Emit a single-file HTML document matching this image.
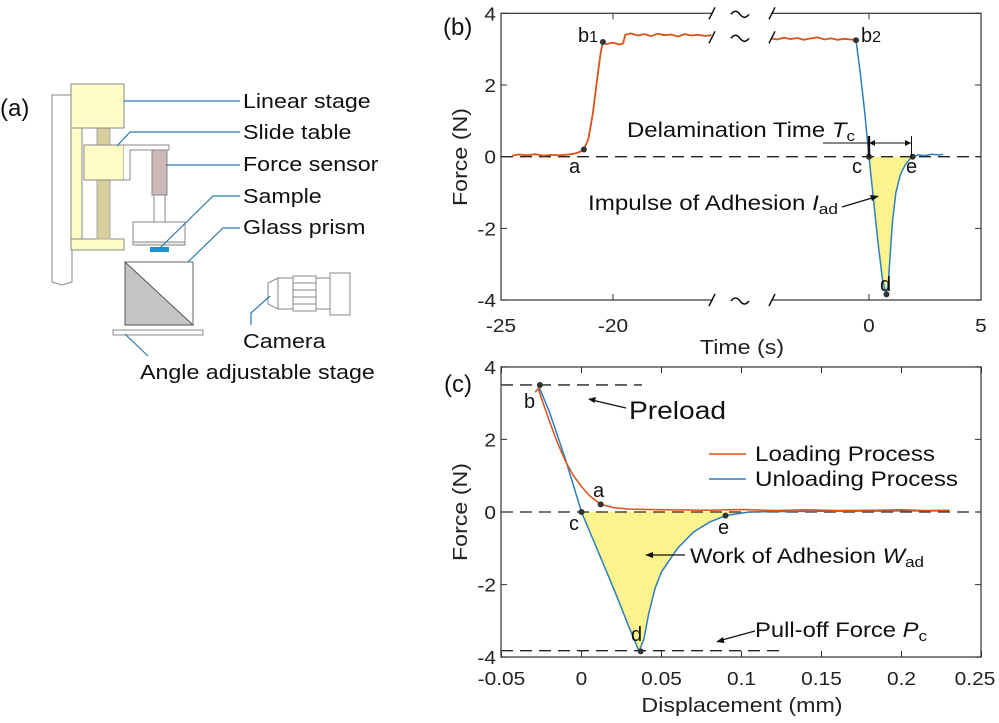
<!DOCTYPE html>
<html><head><meta charset="utf-8"><style>
html,body{margin:0;padding:0;background:#fff;}
svg{display:block;font-family:"Liberation Sans",Arial,sans-serif;}
</style></head><body>
<svg id="fig" width="999" height="723" viewBox="0 0 999 723" xmlns="http://www.w3.org/2000/svg">
<rect width="999" height="723" fill="#fff"/>
<g id="panelA" stroke="#888" stroke-width="1">
  <text x="0" y="116" font-size="24" fill="#111" stroke="none">(a)</text>
  <path d="M52,95 L72,95 L72,282 L62,285 L52,282 Z" fill="#fff"/>
  <rect x="71" y="128" width="11" height="122" fill="#fdfbc6"/>
  <rect x="71" y="239" width="53" height="11" fill="#fdfbc6"/>
  <rect x="97" y="128" width="13" height="111" fill="#d6cf9c" stroke="#aaa"/>
  <rect x="71" y="84" width="53" height="44" fill="#fdfbc6"/>
  <rect x="84" y="145" width="40" height="35" fill="#fdfbc6"/>
  <path d="M124,145 L169,145 L169,150 L130,150 L130,180 L124,180" fill="#fff"/>
  <rect x="152" y="150" width="15" height="45" fill="#cdb8b8"/>
  <rect x="154" y="195" width="11" height="27" fill="#fff"/>
  <rect x="133" y="222" width="52" height="20" fill="#fff"/>
  <rect x="133" y="242" width="52" height="3" fill="#eee"/>
  <rect x="150" y="247" width="19" height="5" fill="#1e90d6" stroke="none"/>
  <rect x="125" y="262" width="68" height="63" fill="#fff" stroke="#666"/>
  <path d="M125,262 L193,325 L125,325 Z" fill="#c4c4c4" stroke="#555"/>
  <rect x="113" y="330" width="90" height="5" fill="#fff"/>
  <g fill="#fff">
    <path d="M268,283 L278,278 L278,309 L268,304 Z"/>
    <rect x="278" y="278" width="15" height="31"/>
    <rect x="293" y="276" width="23" height="35"/>
    <line x1="293" y1="283" x2="316" y2="283"/><line x1="293" y1="290" x2="316" y2="290"/><line x1="293" y1="297" x2="316" y2="297"/><line x1="293" y1="304" x2="316" y2="304"/>
    <rect x="316" y="278" width="14" height="31"/>
    <rect x="330" y="273" width="20" height="42"/>
  </g>
  <g stroke="#2a7ab0" stroke-width="1.2" fill="none">
    <path d="M124,101 L240,101"/>
    <path d="M117,146 L130,132 L240,132"/>
    <path d="M166,165 L240,165"/>
    <path d="M160,248 L213,196 L240,196"/>
    <path d="M188,262 L223,228 L240,228"/>
    <path d="M251,325 L251,313 L270,296"/>
    <path d="M125,334 L148,356"/>
  </g>
  <g font-size="20" fill="#111" stroke="none">
    <text class="st" x="243" y="108">Linear stage</text>
    <text class="st" x="243" y="139">Slide table</text>
    <text class="st" x="243" y="171">Force sensor</text>
    <text class="st" x="243" y="203">Sample</text>
    <text class="st" x="243" y="234">Glass prism</text>
    <text class="st" x="243" y="348">Camera</text>
    <text class="st" x="140" y="379">Angle adjustable stage</text>
  </g>
</g>
<g id="panelB"></g>
<g id="panelC"></g>
</svg>
<script>
// ---- Panel (b) data ----
const bLoadT = [-24.5,-24.2,-23.8,-23.5,-23.1,-22.8,-22.4,-22,-21.7,-21.5,-21.3,-21.1,-20.9,-20.7,-20.55,-20.45,-20.3,-20.0,-19.7,-19.55,-19.45,-19.2,-18.9,-18.6,-18.3,-18,-17.7,-17.4,-17.1,-16.8,-16.5,-16.2,-15.9,-15.6];
const bLoadF = [0.03,0.06,0.04,0.07,0.03,0.05,0.04,0.06,0.09,0.13,0.2,0.5,1.2,2.2,2.9,3.2,3.14,3.18,3.13,3.16,3.4,3.44,3.38,3.42,3.36,3.43,3.39,3.41,3.35,3.42,3.38,3.4,3.37,3.39];
const bHoldT = [-4.4,-4.1,-3.8,-3.5,-3.2,-2.9,-2.6,-2.3,-2.0,-1.7,-1.4,-1.1,-0.8,-0.58];
const bHoldF = [3.3,3.27,3.32,3.28,3.31,3.26,3.3,3.33,3.27,3.3,3.26,3.29,3.27,3.25];
const bUnloadT = [-0.58,-0.4,-0.2,0,0.2,0.4,0.6,0.72,0.78,0.86,0.95,1.05,1.2,1.4,1.6,1.8,1.95,2.2,2.5,2.8,3.1,3.3];
const bUnloadF = [3.25,2.4,1.3,0,-1.2,-2.4,-3.4,-3.75,-3.84,-3.5,-2.7,-1.8,-1.0,-0.5,-0.25,-0.08,0,0.05,0.03,0.07,0.05,0.06];
const bPointsT = [-21.3,-20.45,-0.58,0,0.78,1.95];
const bPointsF = [0.2,3.2,3.25,0,-3.84,0];
const bYTicks = [-4,-2,0,2,4];
const bXTicks = [-25,-20,0,5];
// ---- Panel (c) data ----
const cLoadD = [-0.029,-0.027,-0.024,-0.02,-0.015,-0.01,-0.005,0,0.005,0.012,0.02,0.03,0.05,0.08,0.1,0.12,0.14,0.16,0.18,0.2,0.215,0.23];
const cLoadF = [3.3,3.4,3.0,2.5,1.9,1.4,1.0,0.7,0.45,0.21,0.12,0.08,0.06,0.05,0.07,0.04,0.06,0.04,0.05,0.06,0.04,0.05];
const cUnloadD = [-0.027,-0.02,-0.01,0,0.01,0.02,0.03,0.036,0.039,0.042,0.046,0.05,0.06,0.07,0.08,0.09,0.1,0.105,0.12,0.15,0.2,0.23];
const cUnloadF = [3.5,2.75,1.45,0,-1.05,-2.1,-3.2,-3.84,-3.5,-2.8,-2.1,-1.65,-1.0,-0.55,-0.28,-0.1,-0.03,0,0.01,0.02,0.03,0.03];
const cPointsD = [-0.026,0.012,0,0.09,0.037];
const cPointsF = [3.5,0.21,0,-0.1,-3.84];
const cYTicks = [-4,-2,0,2,4];
const cXTicks = [-0.05,0,0.05,0.1,0.15,0.2,0.25];
const cXTickLabels = ['-0.05','0','0.05','0.1','0.15','0.2','0.25'];

const NS='http://www.w3.org/2000/svg';
function mk(parent,tag,attrs,text){const e=document.createElementNS(NS,tag);for(const k in attrs)e.setAttribute(k,attrs[k]);if(text!==undefined)e.textContent=text;parent.appendChild(e);return e;}
const ORANGE='#d95319', BLUE='#2b7fc0', AX='#333', FILL='#fbf38e';
const L=501,R=981;
const bTop=13.3,bBot=300;
function bx(t){return t<=-10? L+(t+25)*22.4 : 869+t*22.4;}
function by(f){return 156.7-f*35.85;}
const cTop=367,cBot=657;
function cx(d){return 581.5+d*1600;}
function cy(f){return 512-f*36.3;}
function pathFrom(xs,ys,fx,fy){return xs.map((v,i)=>(i?'L':'M')+fx(v).toFixed(1)+','+fy(ys[i]).toFixed(1)).join(' ');}
const TF=18, LF=20;

// ---------- Panel B ----------
const B=document.getElementById('panelB');
let el;
{const xs=[],ys=[];bUnloadT.forEach((t,i)=>{if(t>=0&&t<=1.95){xs.push(t);ys.push(bUnloadF[i]);}});
 el=mk(B,'path',{d:pathFrom(xs,ys,bx,by)+' Z',fill:FILL,stroke:'none'});
 
 }
el=mk(B,'line',{x1:L,x2:R,y1:by(0),y2:by(0),stroke:'#222','stroke-width':1.3,'stroke-dasharray':'12,7'});


el=mk(B,'path',{d:pathFrom(bLoadT,bLoadF,bx,by),fill:'none',stroke:ORANGE,'stroke-width':1.8});


el=mk(B,'path',{d:pathFrom(bHoldT,bHoldF,bx,by),fill:'none',stroke:ORANGE,'stroke-width':1.8});


el=mk(B,'path',{d:pathFrom(bUnloadT,bUnloadF,bx,by),fill:'none',stroke:BLUE,'stroke-width':1.5});


bPointsT.forEach((t,i)=>{el=mk(B,'circle',{cx:bx(t),cy:by(bPointsF[i]),r:3,fill:'#333'});
 
 });
el=mk(B,'rect',{x:L,y:bTop,width:R-L,height:bBot-bTop,fill:'none',stroke:AX,'stroke-width':1.2});


bYTicks.forEach(v=>{const y=by(v);
 mk(B,'line',{x1:L,x2:L+6,y1:y,y2:y,stroke:AX});mk(B,'line',{x1:R-6,x2:R,y1:y,y2:y,stroke:AX});
 el=mk(B,'text',{class:'st',x:L-5,y:y+7,'font-size':TF,'text-anchor':'end',fill:'#222'},String(v));
 
 });
bXTicks.forEach(v=>{const x=bx(v);
 mk(B,'line',{x1:x,x2:x,y1:bBot,y2:bBot-6,stroke:AX});mk(B,'line',{x1:x,x2:x,y1:bTop,y2:bTop+6,stroke:AX});
 el=mk(B,'text',{class:'st',x:x,y:332,'font-size':TF,'text-anchor':'middle',fill:'#222'},String(v));
 
 });
[[bTop,0],[by(3.33),1],[bBot,0]].forEach(([y,mid])=>{
 if(!mid) mk(B,'rect',{x:713,y:y-3,width:58,height:6,fill:'#fff'});
 else mk(B,'rect',{x:714,y:y-8,width:56,height:16,fill:'#fff'});
 mk(B,'line',{x1:709,y1:y+6,x2:715,y2:y-6,stroke:'#111','stroke-width':1.5});
 mk(B,'line',{x1:769,y1:y+6,x2:775,y2:y-6,stroke:'#111','stroke-width':1.5});
 mk(B,'path',{d:`M731,${y+1} q4.5,-6 9,0 t9,0`,fill:'none',stroke:'#111','stroke-width':1.6});
});
el=mk(B,'text',{x:443,y:35,'font-size':24,fill:'#111'},'(b)');


el=mk(B,'text',{class:'st',x:742,y:354,'font-size':LF,'text-anchor':'middle',fill:'#222'},'Time (s)');


el=mk(B,'text',{class:'st',x:0,y:0,'font-size':LF,'text-anchor':'middle',fill:'#222',transform:'translate(467,157) rotate(-90)'},'Force (N)');


const bLab=[['b',578,42,'b1'],['a',569,173,'a'],['c',852,173,'c'],['e',906,173,'e'],['d',880,291,'d'],['b',861,42,'b2']];
bLab.forEach(([t,x,y,n])=>{el=mk(B,'text',{x:x,y:y,'font-size':LF,fill:'#111'});el.textContent=t;
 if(n.length>1){mk(el,'tspan',{'font-size':16},n[1]);}
 
 });
el=mk(B,'text',{x:627,y:137,'font-size':21,fill:'#111',textLength:228,lengthAdjust:'spacingAndGlyphs'},'Delamination Time ');
mk(el,'tspan',{'font-style':'italic'},'T');mk(el,'tspan',{'font-size':15,dy:4},'c');


mk(B,'line',{x1:823,x2:869,y1:143,y2:143,stroke:'#111'});
mk(B,'line',{x1:869,x2:911,y1:143,y2:143,stroke:'#111'});
mk(B,'path',{d:'M869,143 l6,-3 l0,6 Z M911,143 l-6,-3 l0,6 Z',fill:'#111'});
mk(B,'line',{x1:869,x2:869,y1:136,y2:157,stroke:'#111','stroke-width':2.4});
mk(B,'line',{x1:911.5,x2:911.5,y1:136,y2:158,stroke:'#111','stroke-width':1});
el=mk(B,'text',{x:588,y:210,'font-size':21,fill:'#111',textLength:250,lengthAdjust:'spacingAndGlyphs'},'Impulse of Adhesion ');
mk(el,'tspan',{'font-style':'italic'},'I');mk(el,'tspan',{'font-size':15,dy:4},'ad');


mk(B,'line',{x1:842,y1:207,x2:872,y2:198,stroke:'#111','stroke-width':1.3});
mk(B,'path',{d:'M879,196 l-9,-1 l2,6 Z',fill:'#111'});

// ---------- Panel C ----------
const C=document.getElementById('panelC');
{const xs=[],ys=[];cUnloadD.forEach((d,i)=>{if(d>=0&&d<=0.105){xs.push(d);ys.push(cUnloadF[i]);}});
 el=mk(C,'path',{d:pathFrom(xs,ys,cx,cy)+' Z',fill:FILL,stroke:'none'});
 
 }
el=mk(C,'line',{x1:L,x2:R,y1:cy(0),y2:cy(0),stroke:'#222','stroke-width':1.3,'stroke-dasharray':'12,7'});


el=mk(C,'line',{x1:L,x2:642,y1:cy(3.5),y2:cy(3.5),stroke:'#222','stroke-width':1.3,'stroke-dasharray':'12,7'});


el=mk(C,'line',{x1:L,x2:779,y1:cy(-3.82),y2:cy(-3.82),stroke:'#222','stroke-width':1.3,'stroke-dasharray':'12,7'});


el=mk(C,'path',{d:pathFrom(cUnloadD,cUnloadF,cx,cy),fill:'none',stroke:BLUE,'stroke-width':1.5});


el=mk(C,'path',{d:pathFrom(cLoadD,cLoadF,cx,cy),fill:'none',stroke:ORANGE,'stroke-width':1.5});


cPointsD.forEach((d,i)=>{el=mk(C,'circle',{cx:cx(d),cy:cy(cPointsF[i]),r:3,fill:'#333'});
 
 });
el=mk(C,'rect',{x:L,y:cTop,width:R-L,height:cBot-cTop,fill:'none',stroke:AX,'stroke-width':1.2});


cYTicks.forEach(v=>{const y=cy(v);
 mk(C,'line',{x1:L,x2:L+6,y1:y,y2:y,stroke:AX});mk(C,'line',{x1:R-6,x2:R,y1:y,y2:y,stroke:AX});
 el=mk(C,'text',{class:'st',x:L-5,y:y+7,'font-size':TF,'text-anchor':'end',fill:'#222'},String(v));
 
 });
cXTicks.forEach((v,i)=>{const x=cx(v);
 mk(C,'line',{x1:x,x2:x,y1:cBot,y2:cBot-6,stroke:AX});mk(C,'line',{x1:x,x2:x,y1:cTop,y2:cTop+6,stroke:AX});
 el=mk(C,'text',{class:'st',x:Math.min(x,975),y:685,'font-size':TF,'text-anchor':'middle',fill:'#222'},cXTickLabels[i]);
 
 });
el=mk(C,'text',{x:444,y:392,'font-size':24,fill:'#111'},'(c)');


el=mk(C,'text',{class:'st',x:742,y:712,'font-size':LF,'text-anchor':'middle',fill:'#222'},'Displacement (mm)');


el=mk(C,'text',{class:'st',x:0,y:0,'font-size':LF,'text-anchor':'middle',fill:'#222',transform:'translate(467,512) rotate(-90)'},'Force (N)');


[['b',524,408],['a',593,497],['c',569,530],['e',718,534],['d',631,641]].forEach(([t,x,y])=>{
 el=mk(C,'text',{x:x,y:y,'font-size':LF,fill:'#111'},t);
 
 });
el=mk(C,'text',{x:629,y:419,'font-size':25,fill:'#111',textLength:97,lengthAdjust:'spacingAndGlyphs'},'Preload');


mk(C,'line',{x1:626,y1:408,x2:594,y2:400.5,stroke:'#111','stroke-width':1.3});
mk(C,'path',{d:'M588,399 l8,-2 l-1.5,6 Z',fill:'#111'});
el=mk(C,'line',{x1:709,x2:746,y1:454,y2:454,stroke:ORANGE,'stroke-width':1.6});


el=mk(C,'text',{x:755,y:461,'font-size':21,fill:'#111',textLength:180,lengthAdjust:'spacingAndGlyphs'},'Loading Process');


el=mk(C,'line',{x1:709,x2:746,y1:479,y2:479,stroke:BLUE,'stroke-width':1.6});


el=mk(C,'text',{x:755,y:486,'font-size':21,fill:'#111',textLength:203,lengthAdjust:'spacingAndGlyphs'},'Unloading Process');


el=mk(C,'text',{x:690,y:563,'font-size':21,fill:'#111',textLength:234,lengthAdjust:'spacingAndGlyphs'},'Work of Adhesion ');
mk(el,'tspan',{'font-style':'italic'},'W');mk(el,'tspan',{'font-size':15,dy:4},'ad');


mk(C,'line',{x1:685,y1:555,x2:652,y2:555,stroke:'#111','stroke-width':1.3});
mk(C,'path',{d:'M645,555 l8,-3 l0,6 Z',fill:'#111'});
el=mk(C,'text',{x:755,y:637,'font-size':21,fill:'#111',textLength:172,lengthAdjust:'spacingAndGlyphs'},'Pull-off Force ');
mk(el,'tspan',{'font-style':'italic'},'P');mk(el,'tspan',{'font-size':15,dy:4},'c');


mk(C,'line',{x1:755,y1:631,x2:722,y2:640,stroke:'#111','stroke-width':1.3});
mk(C,'path',{d:'M716,642 l7,-5 l1.5,6 Z',fill:'#111'});

// widen plain labels (reference text is horizontally wider)
document.querySelectorAll('text.st').forEach(t=>{
 const w=t.getComputedTextLength();
 t.setAttribute('textLength',(w*1.16).toFixed(1));
 t.setAttribute('lengthAdjust','spacingAndGlyphs');
});
</script>
</body></html>
